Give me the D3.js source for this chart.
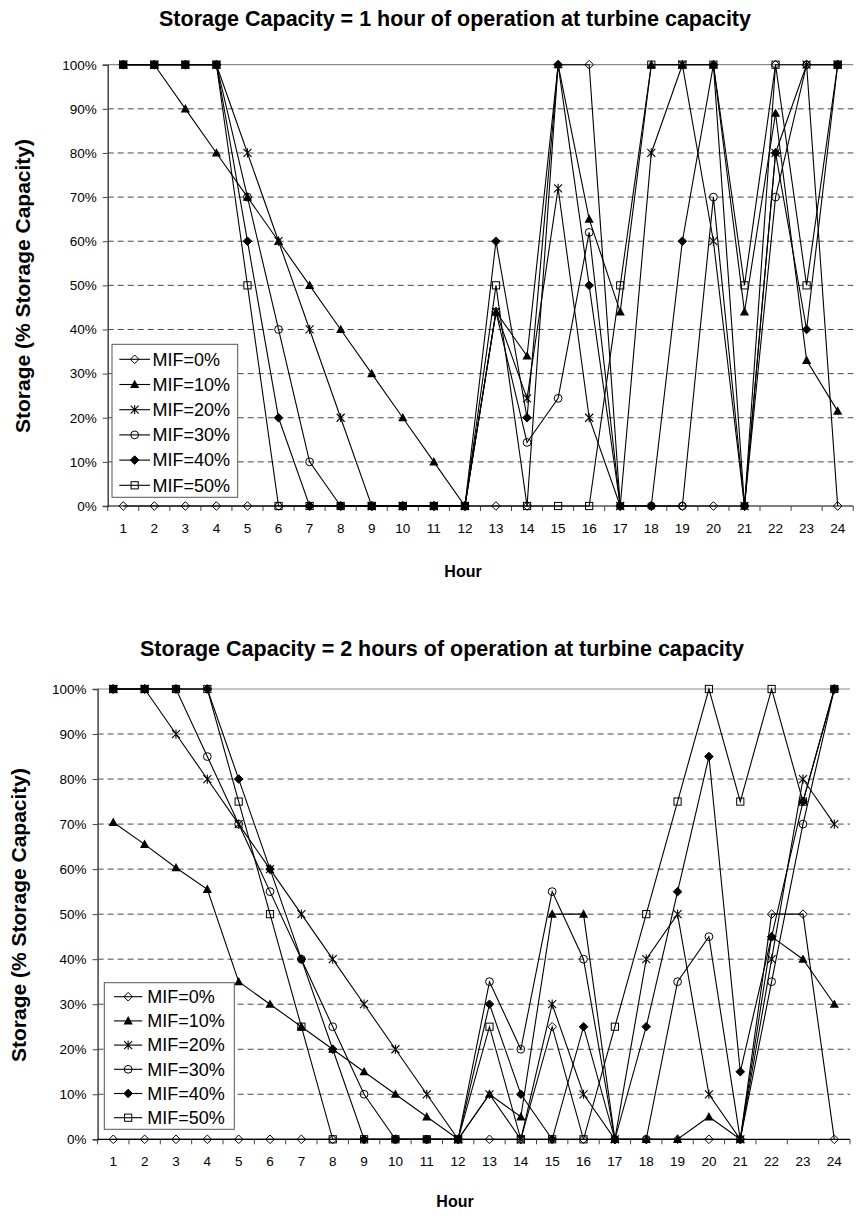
<!DOCTYPE html>
<html>
<head>
<meta charset="utf-8">
<script src="https://cdn.jsdelivr.net/npm/d3@7"></script>
<style>
  body { margin: 0; background: #fff; }
  svg { display: block; font-family: "Liberation Sans", Arial, sans-serif; }
</style>
</head>
<body>
<svg width="857" height="1216"></svg>
<script>
const hours = [1, 2, 3, 4, 5, 6, 7, 8, 9, 10, 11, 12, 13, 14, 15, 16, 17, 18, 19, 20, 21, 22, 23, 24];
const yTicks = [0, 10, 20, 30, 40, 50, 60, 70, 80, 90, 100];
const seriesNames = ["MIF=0%", "MIF=10%", "MIF=20%", "MIF=30%", "MIF=40%", "MIF=50%"];
const markerTypes = ["diamondOpen", "triangle", "star", "circle", "diamondFilled", "square"];

// storage = 1 hour of turbine operation
const h1_mif0  = [0, 0, 0, 0, 0, 0, 0, 0, 0, 0, 0, 0, 0, 0, 100, 100, 0, 0, 0, 0, 0, 100, 100, 0];
const h1_mif10 = [100, 100, 90, 80, 70, 60, 50, 40, 30, 20, 10, 0, 44, 34, 100, 65, 44, 100, 100, 100, 44, 89, 33, 21.5];
const h1_mif20 = [100, 100, 100, 100, 80, 60, 40, 20, 0, 0, 0, 0, 44, 24.4, 72, 20, 0, 80, 100, 60, 0, 80, 100, 100];
const h1_mif30 = [100, 100, 100, 100, 70, 40, 10, 0, 0, 0, 0, 0, 44, 14.4, 24.4, 62, 0, 0, 0, 70, 0, 70, 100, 100];
const h1_mif40 = [100, 100, 100, 100, 60, 20, 0, 0, 0, 0, 0, 0, 60, 20, 100, 50, 0, 0, 60, 100, 0, 80, 40, 100];
const h1_mif50 = [100, 100, 100, 100, 50, 0, 0, 0, 0, 0, 0, 0, 50, 0, 0, 0, 50, 100, 100, 100, 50, 100, 50, 100];

// storage = 2 hours of turbine operation
const h2_mif0  = [0, 0, 0, 0, 0, 0, 0, 0, 0, 0, 0, 0, 0, 0, 25, 0, 0, 0, 0, 0, 0, 50, 50, 0];
const h2_mif10 = [70.4, 65.5, 60.3, 55.5, 35, 30, 25, 20, 15, 10, 5, 0, 10, 5, 50, 50, 0, 0, 0, 5, 0, 45, 40, 30];
const h2_mif20 = [100, 100, 90, 80, 70, 60, 50, 40, 30, 20, 10, 0, 10, 0, 30, 10, 0, 40, 50, 10, 0, 40, 80, 70];
const h2_mif30 = [100, 100, 100, 85, 70, 55, 40, 25, 10, 0, 0, 0, 35, 20, 55, 40, 0, 0, 35, 45, 0, 35, 70, 100];
const h2_mif40 = [100, 100, 100, 100, 80, 60, 40, 20, 0, 0, 0, 0, 30, 10, 0, 25, 0, 25, 55, 85, 15, 45, 75, 100];
const h2_mif50 = [100, 100, 100, 100, 75, 50, 25, 0, 0, 0, 0, 0, 25, 0, 0, 0, 25, 50, 75, 100, 75, 100, 75, 100];

const svg = d3.select("svg");

function marker(sel, type) {
    if (type === "diamondOpen" || type === "diamondFilled") {
        sel.append("path").attr("d", "M0,-4.3L4.3,0L0,4.3L-4.3,0Z")
            .attr("fill", type === "diamondFilled" ? "#000" : "none")
            .attr("stroke", "#000").attr("stroke-width", 1);
    } else if (type === "triangle") {
        sel.append("path").attr("d", "M0,-4.8L4.6,3.6L-4.6,3.6Z").attr("fill", "#000");
    } else if (type === "star") {
        sel.append("path").attr("d", "M-4,-4L4,4M-4,4L4,-4M0,-4.6L0,4.6")
            .attr("fill", "none").attr("stroke", "#000").attr("stroke-width", 1.1);
    } else if (type === "circle") {
        sel.append("circle").attr("r", 3.9).attr("fill", "none").attr("stroke", "#000").attr("stroke-width", 1);
    } else if (type === "square") {
        sel.append("rect").attr("x", -3.6).attr("y", -3.6).attr("width", 7.2).attr("height", 7.2)
            .attr("fill", "none").attr("stroke", "#000").attr("stroke-width", 1);
    }
}

function drawChart(o) {
    const x = d3.scaleBand().domain(hours).range([o.left, o.right]).paddingInner(0).paddingOuter(0);
    const y = d3.scaleLinear().domain([0, 100]).range([o.bottom, o.top]);
    const cx = h => x(h) + x.bandwidth() / 2;
    const g = svg.append("g");

    // gridlines
    g.append("g").selectAll("line").data(yTicks.filter(t => t > 0)).join("line")
        .attr("x1", o.left).attr("x2", o.right)
        .attr("y1", d => y(d)).attr("y2", d => y(d))
        .attr("stroke", d => d === 100 ? "#8a8a8a" : "#333")
        .attr("stroke-width", d => d === 100 ? 1.2 : 0.9)
        .attr("stroke-dasharray", d => d === 100 ? null : "6,4");

    // y axis
    const ya = g.append("g").attr("transform", `translate(${o.left},0)`)
        .call(d3.axisLeft(y).tickValues(yTicks).tickFormat(d => d + "%").tickSize(5).tickPadding(6));
    ya.select(".domain").attr("stroke", "#444").attr("stroke-width", 1.5);
    ya.selectAll(".tick line").attr("stroke", "#444");
    ya.selectAll("text").attr("font-size", 13.5).attr("fill", "#000")
        .attr("font-family", "'Liberation Sans', Arial, sans-serif");

    // x axis: labels centred on hours, ticks at category edges
    const xa = g.append("g").attr("transform", `translate(0,${o.bottom})`)
        .call(d3.axisBottom(x).tickSize(0).tickPadding(17));
    xa.select(".domain").remove();
    xa.selectAll("text").attr("font-size", 13.5).attr("fill", "#000")
        .attr("font-family", "'Liberation Sans', Arial, sans-serif");
    g.append("line").attr("x1", o.left).attr("x2", o.right)
        .attr("y1", o.bottom).attr("y2", o.bottom).attr("stroke", "#000").attr("stroke-width", 1.2);
    g.append("g").selectAll("line").data(hours.concat([null])).join("line")
        .attr("x1", d => d === null ? o.right : x(d)).attr("x2", d => d === null ? o.right : x(d))
        .attr("y1", o.bottom).attr("y2", o.bottom + 5).attr("stroke", "#444");

    // series
    const line = d3.line().x((d, i) => cx(hours[i])).y(d => y(d));
    o.series.forEach((vals, si) => {
        const sg = g.append("g");
        sg.append("path").attr("d", line(vals)).attr("fill", "none")
            .attr("stroke", "#000").attr("stroke-width", 1.1);
        vals.forEach((v, i) => {
            marker(sg.append("g").attr("transform", `translate(${cx(hours[i])},${y(v)})`), markerTypes[si]);
        });
    });

    // titles
    g.append("text").attr("x", o.titleX).attr("y", o.titleY).attr("text-anchor", "middle")
        .attr("font-weight", "bold").attr("font-size", 21.5).text(o.title);
    g.append("text").attr("transform", `translate(${o.yLabelX},${o.yLabelY}) rotate(-90)`)
        .attr("text-anchor", "middle").attr("font-weight", "bold").attr("font-size", 21)
        .text("Storage (% Storage Capacity)");
    g.append("text").attr("x", o.xLabelX).attr("y", o.xLabelY).attr("text-anchor", "middle")
        .attr("font-weight", "bold").attr("font-size", 16).text("Hour");

    // legend
    const lg = g.append("g");
    lg.append("rect").attr("x", o.leg.x).attr("y", o.leg.y).attr("width", o.leg.w).attr("height", o.leg.h)
        .attr("fill", "#fff").attr("stroke", "#555").attr("stroke-width", 1);
    seriesNames.forEach((name, i) => {
        const ry = o.leg.y + o.leg.first + i * o.leg.step;
        lg.append("line").attr("x1", o.leg.x1).attr("x2", o.leg.x2).attr("y1", ry).attr("y2", ry)
            .attr("stroke", "#000").attr("stroke-width", 1.1);
        marker(lg.append("g").attr("transform", `translate(${(o.leg.x1 + o.leg.x2) / 2},${ry})`), markerTypes[i]);
        lg.append("text").attr("x", o.leg.tx).attr("y", ry).attr("dy", "0.35em")
            .attr("font-size", 18).text(name);
    });
}

drawChart({
    left: 107.7, right: 853.2, top: 64.7, bottom: 506,
    series: [h1_mif0, h1_mif10, h1_mif20, h1_mif30, h1_mif40, h1_mif50],
    title: "Storage Capacity = 1 hour of operation at turbine capacity",
    titleX: 455, titleY: 25.5, yLabelX: 29.5, yLabelY: 286, xLabelX: 463, xLabelY: 577,
    leg: { x: 112, y: 344.3, w: 125.7, h: 153, first: 15, step: 25.2, x1: 119.3, x2: 150, tx: 152.5 }
});

drawChart({
    left: 97.6, right: 850, top: 689, bottom: 1139.3,
    series: [h2_mif0, h2_mif10, h2_mif20, h2_mif30, h2_mif40, h2_mif50],
    title: "Storage Capacity = 2 hours of operation at turbine capacity",
    titleX: 442, titleY: 655.5, yLabelX: 25.5, yLabelY: 915, xLabelX: 455, xLabelY: 1207,
    leg: { x: 104.3, y: 982.7, w: 130, h: 146.6, first: 14, step: 24.2, x1: 114, x2: 142.3, tx: 147.3 }
});
</script>
</body>
</html>
